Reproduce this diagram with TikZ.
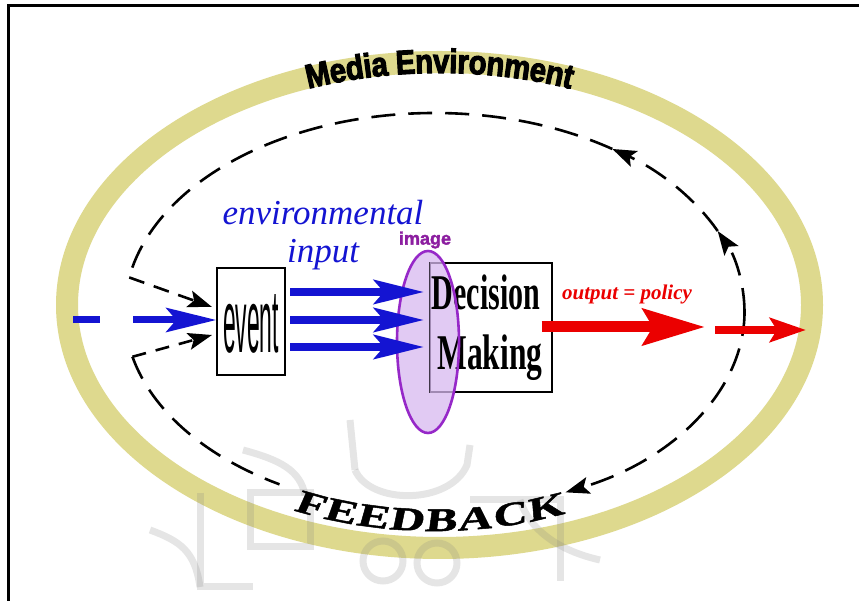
\documentclass[tikz,border=0pt]{standalone}
\usepackage{fontspec}
\setmainfont{Liberation Serif}
\setsansfont{Liberation Sans}
\newfontfamily\medfont[UprightFont={* Bold},FakeBold=3,FakeStretch=0.86]{Liberation Sans}
\newfontfamily\imgfont[UprightFont={* Bold},FakeBold=2]{Liberation Sans}
\newfontfamily\fbfont[UprightFont={* Bold},FakeBold=1.5,FakeStretch=1.45,FakeSlant=0.15]{Liberation Serif}
\usetikzlibrary{arrows.meta,decorations.text,calc}
\definecolor{ringc}{RGB}{222,217,142}
\definecolor{inblue}{RGB}{20,20,210}
\definecolor{imgline}{RGB}{150,40,200}
\definecolor{imgfill}{RGB}{215,185,240}
\definecolor{imglabel}{RGB}{140,30,160}
\definecolor{outred}{RGB}{235,0,0}
\tikzset{
  fbdash/.style={line width=2.6pt, dash pattern=on 24pt off 13pt},
  fbtip/.style={-{Stealth[length=24pt,width=17pt,inset=5pt]}},
  bluearrow/.style={inblue, line width=8pt, -{Stealth[length=50pt,width=24pt,inset=10pt]}},
  redbig/.style={outred, line width=11pt, -{Stealth[length=62pt,width=36pt,inset=10pt]}},
  redsmall/.style={outred, line width=8pt, -{Stealth[length=36pt,width=24pt,inset=7pt]}},
  boxnode/.style={draw, line width=1.3pt, fill=white, inner sep=0pt},
  wm/.style={gray, opacity=0.2, line width=7pt},
}
\begin{document}
\begin{tikzpicture}[x=1pt,y=1pt]
\useasboundingbox (0,0) rectangle (859,601);
\fill[white] (0,0) rectangle (859,601);
\draw[line width=3pt] (8,0) -- (8,595) -- (859,595);

% media environment ring
\coordinate (rc) at (439.5,296);
\draw[ringc, line width=22pt] (rc) ellipse [x radius=372.5pt, y radius=243pt];
\path[decorate, decoration={text along path, text align=center, raise=-11pt,
  text={|\fontsize{34}{34}\medfont|Media Environment}}]
  ($(rc)+(130:372.5pt and 243pt)$) arc [start angle=130, end angle=50, x radius=372.5pt, y radius=243pt];

% faint watermark
\draw[wm] (350,181) -- (355,131);
\draw[wm] (243,151) .. controls (280,141) and (300,131) .. (305,106);
\draw[wm] (355,131) .. controls (370,96) and (450,96) .. (467,136) -- (470,156);
\draw[wm] (250,54) rectangle (310,108);
\draw[wm] (383,40) circle [radius=20pt];
\draw[wm] (437,38) circle [radius=20pt];
\draw[wm] (150,71) .. controls (180,60) and (195,50) .. (200,14);
\draw[wm] (200,108) -- (200,14) -- (253,14);
\draw[wm] (520,101) .. controls (530,70) and (560,50) .. (600,41);
\draw[wm] (470,101) -- (560,101) -- (560,20);

% feedback loop
\coordinate (dc) at (434.5,289);
\coordinate (fbA) at ($(dc)+(24:310pt and 199pt)$);
\coordinate (fbB) at ($(dc)+(55:310pt and 199pt)$);
\coordinate (fbTop) at ($(dc)+(170:310pt and 199pt)$);
\coordinate (fbBot) at ($(dc)+(193:310pt and 199pt)$);
\coordinate (fbR) at ($(dc)+(0:310pt and 199pt)$);
\draw[fbdash, fbtip] (fbR) arc [start angle=0, end angle=24, x radius=310pt, y radius=199pt];
\draw[fbdash, fbtip] (fbA) arc [start angle=24, end angle=55, x radius=310pt, y radius=199pt];
\draw[fbdash] (fbB) arc [start angle=55, end angle=170, x radius=310pt, y radius=199pt];
\draw[fbdash, fbtip] (fbR) arc [start angle=360, end angle=295, x radius=310pt, y radius=199pt];
\draw[fbdash] (fbBot) arc [start angle=193, end angle=240, x radius=310pt, y radius=199pt];
\path[decorate, decoration={text along path, text align=center, raise=-20pt,
  text={|\fontsize{33}{33}\fbfont|FEEDBACK}}]
  ($(dc)+(240:310pt and 199pt)$) arc [start angle=240, end angle=298, x radius=310pt, y radius=199pt];

% event
\node[boxnode, minimum width=68pt, minimum height=107pt] (ev) at (251,279.5) {};
\node[inner sep=0pt] (evtext) at (251,277) {\resizebox{56pt}{58pt}{\sffamily event}};
\draw[fbdash, fbtip, dash pattern=on 16pt off 10pt] (fbTop) -- (212,294);
\draw[fbdash, fbtip, dash pattern=on 14pt off 10pt] (fbBot) -- (212,266);
\draw[inblue, line width=7pt] (73,281) -- (100,281);
\coordinate (inStart) at (133,281);
\draw[inblue, line width=7pt, -{Stealth[length=50pt,width=24pt,inset=10pt]}] (inStart) -- (ev.west |- inStart);

% environmental input label
\node[inblue, anchor=base, inner sep=0pt, font=\fontsize{35}{35}\selectfont\itshape] (envlab) at (323,376) {environmental};
\node[inblue, anchor=base, inner sep=0pt, font=\fontsize{35}{35}\selectfont\itshape] (inplab) at (323,338) {input};

% decision making box, image fill behind its text
\node[boxnode, minimum width=122pt, minimum height=129pt] (dm) at (491,273.5) {};
\fill[imgfill, opacity=0.75] (428,259) ellipse [x radius=31pt, y radius=91pt];
\draw[line width=1.3pt, opacity=0.6] (dm.north west) -- (dm.south west);
\node[anchor=base, inner sep=0pt, font=\fontsize{50}{50}\selectfont\bfseries] (dec) at (486,291) {\scalebox{0.6}[1]{Decision}};
\node[anchor=base, inner sep=0pt, font=\fontsize{50}{50}\selectfont\bfseries] (mak) at (490,231) {\scalebox{0.63}[1]{Making}};
\draw[imgline, line width=2.6pt] (428,259) ellipse [x radius=31pt, y radius=91pt];
\node[imglabel, inner sep=0pt, font=\fontsize{18}{18}\imgfont] (imglab) at (425,361) {image};

% inputs
\foreach \yy/\nm in {309/a, 281/b, 254/c}{
  \coordinate (s\nm) at (290,\yy);
  \coordinate (t\nm) at (424,\yy);
  \draw[bluearrow] (s\nm) -- (t\nm);
}

% output
\coordinate (o1) at (705,274);
\draw[redbig] ([xshift=-11pt]dm.east |- o1) -- (o1);
\coordinate (o2s) at (715,271);
\coordinate (o2) at (806,271);
\draw[redsmall] (o2s) -- (o2);
\node[outred, anchor=base, inner sep=0pt, font=\fontsize{21}{21}\selectfont\bfseries\itshape] (outlab) at (627,301) {output = policy};
\end{tikzpicture}
\end{document}
